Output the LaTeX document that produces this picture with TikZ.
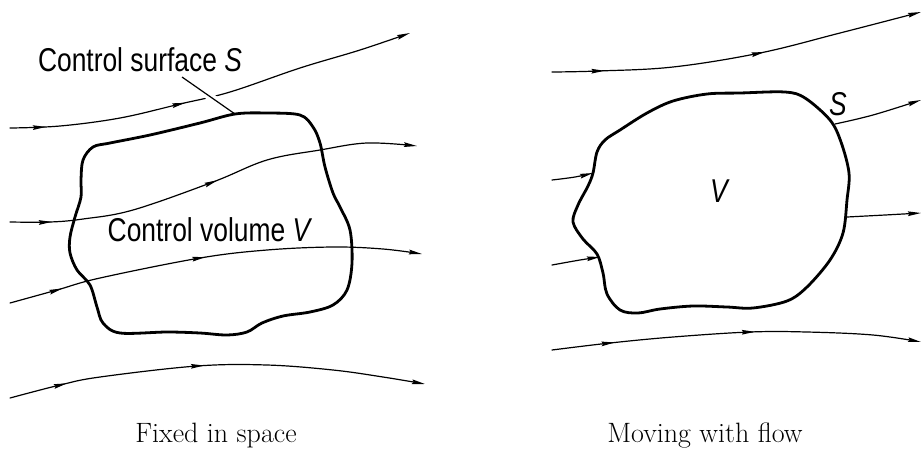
\documentclass[tikz,border=0pt]{standalone}
\usepackage{fontspec}
\usepackage{graphicx}
\newfontfamily\dinfont{Liberation Sans}
\usetikzlibrary{arrows.meta,decorations.markings}
\tikzset{
  >={Stealth[length=13pt,width=4.6pt,inset=1.5pt]},
  stream/.style={line width=1.2pt, line cap=round, ->},
  marrow/.style={postaction={decorate,decoration={markings,mark=at position #1 with {\arrow{>}}}}},
  surf/.style={line width=2.8pt, line join=round},
  lab/.style={font=\dinfont\fontsize{33}{33}\selectfont, inner sep=0pt},
  captext/.style={font=\fontsize{28}{28}\selectfont, inner sep=0pt, anchor=base},
}
\newcommand{\din}[1]{\scalebox{0.8}[1]{#1}}
\begin{document}
\begin{tikzpicture}[x=1pt,y=-1pt]
\useasboundingbox (0,0) rectangle (923,451);

% ---------- left panel: fixed in space ----------
\draw[stream, marrow=0.087, marrow=0.43] plot[smooth, tension=0.6] coordinates
  {(10,128) (60,126) (120,118) (180,104) (230,92) (300,68) (360,50) (410,33)};
\draw[stream, marrow=0.10, marrow=0.51] plot[smooth, tension=0.6] coordinates
  {(10,222) (50,222) (83,219) (133,210) (213,182) (267,160) (320,150) (367,143) (417,146)};
\draw[stream, marrow=0.13, marrow=0.48] plot[smooth, tension=0.6] coordinates
  {(10,303) (57,290) (100,278) (200,258) (267,250) (333,247) (383,249) (422,254)};
\draw[stream, marrow=0.14, marrow=0.47] plot[smooth, tension=0.6] coordinates
  {(10,398) (60,385) (100,377) (197,366) (267,365) (333,370) (383,377) (425,384)};

\coordinate (ldA) at (182,77);
\coordinate (ldB) at (235,114);
\draw[line width=1.2pt, preaction={draw=white, line width=8pt, shorten <=4pt, shorten >=8pt}] (ldA) -- (ldB);

\draw[surf] plot[smooth cycle, tension=0.55] coordinates
  {(110,143) (150,135) (200,123) (235,114) (267,113) (300,115) (313,127) (320,143)
   (325,167) (333,193) (340,207) (350,230) (352,263) (347,290) (333,305) (310,312)
   (283,316) (262,323) (247,332) (227,335) (200,333) (167,332) (120,333) (103,323)
   (97,307) (90,285) (77,270) (70,253) (70,237) (75,217) (81,197) (81,180) (83,160) (93,147)};

\node[lab] (cs) at (140,60) {\din{Control surface \textit{S}}};
\node[lab] (cv) at (210,230) {\din{Control volume \textit{V}}};

% ---------- right panel: moving with flow ----------
\draw[stream, marrow=0.14, marrow=0.57] plot[smooth, tension=0.6] coordinates
  {(552,72) (598,71) (673,67) (760,53) (840,33) (921,12)};
\draw[stream] plot[smooth, tension=0.6] coordinates {(552,180) (575,177) (593,173)};
\draw[stream] plot[smooth, tension=0.6] coordinates {(835,124) (873,115) (921,100)};
\draw[stream] plot[smooth, tension=0.6] coordinates {(847,217) (885,215) (921,213)};
\draw[stream] plot[smooth, tension=0.6] coordinates {(552,265) (580,260) (600,257)};
\draw[stream, marrow=0.17, marrow=0.55] plot[smooth, tension=0.6] coordinates
  {(552,350) (610,343) (673,337) (750,332) (807,332) (873,335) (921,342)};

\draw[surf] plot[smooth cycle, tension=0.55] coordinates
  {(593,173) (597,152) (605,140) (620,130) (647,113) (673,101) (707,94) (740,93)
   (785,92) (805,98) (830,120) (841,142) (849,173) (847,200) (843,233) (830,260)
   (807,287) (787,301) (753,308) (727,307) (693,306) (660,309) (638,313) (620,310)
   (607,294) (603,273) (597,254) (583,239) (573,222) (578,205) (588,186)};

\node[lab] (s2) at (838,104) {\din{\textit{S}}};
\node[lab] (v2) at (720,191) {\din{\textit{V}}};

% ---------- captions ----------
\node[captext] (c1) at (216,442) {Fixed in space};
\node[captext] (c2) at (705,442) {Moving with flow};
\end{tikzpicture}
\end{document}
